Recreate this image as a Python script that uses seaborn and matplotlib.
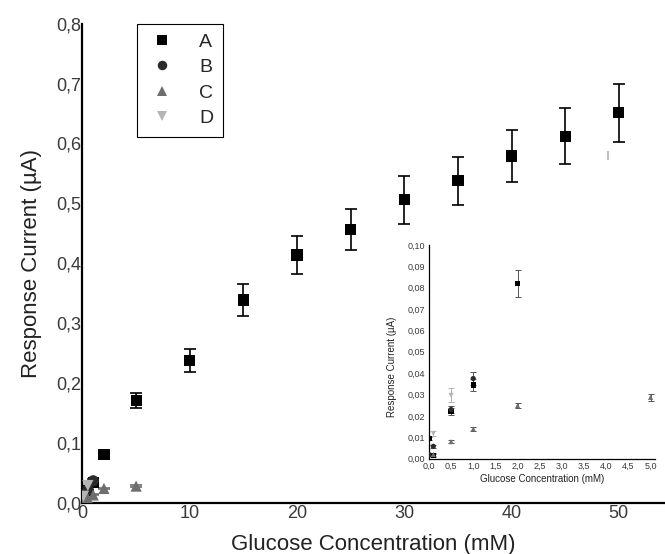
import matplotlib
matplotlib.use('Agg')
import matplotlib.pyplot as plt
import matplotlib.ticker as mticker
import seaborn as sns
import pandas as pd

# --- data ---
conc_A = [0, 0.1, 0.5, 1, 2, 5, 10, 15, 20, 25, 30, 35, 40, 45, 50]
resp_A = [0.0095, 0.0015, 0.022, 0.0345, 0.082, 0.171, 0.238, 0.339, 0.414,
          0.456, 0.506, 0.538, 0.579, 0.612, 0.651]
err_A = [0.0008, 0.0008, 0.0015, 0.0028, 0.0063, 0.0125, 0.019, 0.026, 0.031,
         0.034, 0.040, 0.040, 0.044, 0.047, 0.048]

conc_B = [0, 0.1, 0.5, 1]
resp_B = [0.002, 0.0058, 0.023, 0.0375]
err_B = [0.0005, 0.0008, 0.0015, 0.003]

conc_C = [0.1, 0.5, 1, 2, 5]
resp_C = [0.002, 0.008, 0.0139, 0.0248, 0.0287]
err_C = [0.0005, 0.0008, 0.0008, 0.0012, 0.0015]

conc_D = [0.1, 0.5]
resp_D = [0.0118, 0.0296]
err_D = [0.0012, 0.0033]

# stray light grey bar near x=49 in the original
stray_x = [49]
stray_y = [0.58]
stray_err = [0.008]

series_names = ['A', 'B', 'C', 'D']
colors = {'A': '#000000', 'B': '#2b2b2b', 'C': '#6e6e6e', 'D': '#b4b4b4'}
markers = {'A': 's', 'B': 'o', 'C': '^', 'D': 'v'}

frames = []
for name, x, y in zip(series_names, [conc_A, conc_B, conc_C, conc_D],
                      [resp_A, resp_B, resp_C, resp_D]):
    frames.append(pd.DataFrame({'conc': x, 'resp': y, 'series': name}))
df = pd.concat(frames, ignore_index=True)
errs = {'A': err_A, 'B': err_B, 'C': err_C, 'D': err_D}

sns.set_style('white')
plt.rcParams['font.family'] = ['Liberation Sans', 'DejaVu Sans']

fig = plt.figure(figsize=(6.65, 5.54), dpi=100)
ax = fig.add_axes([0.124, 0.0915, 0.876, 0.866])

def comma(fmt):
    return mticker.FuncFormatter(lambda v, p: format(v, fmt).replace('.', ','))

# main plot
for name in series_names:
    sub = df[df['series'] == name]
    ax.errorbar(sub['conc'], sub['resp'], yerr=errs[name], fmt='none',
                ecolor=colors[name], elinewidth=1.2, capsize=4.5, capthick=1.2, zorder=1)
ax.errorbar(stray_x, stray_y, yerr=stray_err, fmt='none', ecolor='#b4b4b4',
            elinewidth=1.2, capsize=0, zorder=1)
sns.scatterplot(data=df, x='conc', y='resp', hue='series', style='series',
                palette=colors, markers=markers, s=65, linewidth=0, ax=ax, zorder=3)

ax.set_xlim(0, 54.3)
ax.set_ylim(0, 0.8)
ax.set_xticks(range(0, 51, 10))
ax.set_yticks([i / 10 for i in range(9)])
ax.yaxis.set_major_formatter(comma('.1f'))
ax.tick_params(length=0, pad=1, labelsize=13, labelcolor='#3a3a3a')
for side in ['top', 'right']:
    ax.spines[side].set_visible(False)
for side in ['left', 'bottom']:
    ax.spines[side].set_color('black')
    ax.spines[side].set_linewidth(1.6)
ax.set_xlabel('Glucose Concentration (mM)', fontsize=16, color='#222222', labelpad=9)
ax.set_ylabel('Response Current (µA)', fontsize=16, color='#222222', labelpad=10)

sns.move_legend(ax, 'upper left', bbox_to_anchor=(0.094, 1.0), borderaxespad=0,
                title=None, frameon=True, fancybox=False, fontsize=14,
                borderpad=0.5, labelspacing=0.4, handlelength=1.6, handletextpad=1.1,
                markerscale=0.85)
leg = ax.get_legend()
leg.get_frame().set_edgecolor('black')
leg.get_frame().set_linewidth(0.8)
leg.get_frame().set_alpha(1)

# inset
axi = fig.add_axes([0.645, 0.172, 0.34, 0.386])
small = df[df['conc'] <= 5]
for name in series_names:
    sub = df[df['series'] == name]
    keep = sub['conc'] <= 5
    e = [v for v, k in zip(errs[name], keep) if k]
    axi.errorbar(sub['conc'][keep], sub['resp'][keep], yerr=e, fmt='none',
                 ecolor='#555555' if name != 'D' else '#b4b4b4',
                 elinewidth=0.7, capsize=2.5, capthick=0.7, zorder=1)
sns.scatterplot(data=small, x='conc', y='resp', hue='series', style='series',
                palette=colors, markers=markers, s=14, linewidth=0, ax=axi,
                legend=False, zorder=3)
axi.set_xlim(0, 5.1)
axi.set_ylim(0, 0.1)
axi.set_xticks([i / 2 for i in range(11)])
axi.set_yticks([i / 100 for i in range(11)])
axi.xaxis.set_major_formatter(comma('.1f'))
axi.yaxis.set_major_formatter(comma('.2f'))
axi.tick_params(length=2, width=0.6, pad=0.5, labelsize=6.5, labelcolor='#3a3a3a')
for side in ['top', 'right']:
    axi.spines[side].set_visible(False)
for side in ['left', 'bottom']:
    axi.spines[side].set_color('black')
    axi.spines[side].set_linewidth(0.9)
axi.set_xlabel('Glucose Concentration (mM)', fontsize=7, color='#222222', labelpad=2)
axi.set_ylabel('Response Current (µA)', fontsize=7, color='#222222')
axi.yaxis.set_label_coords(-0.14, 0.43)
axi.patch.set_alpha(0)

plt.savefig('out.png', dpi=100)
